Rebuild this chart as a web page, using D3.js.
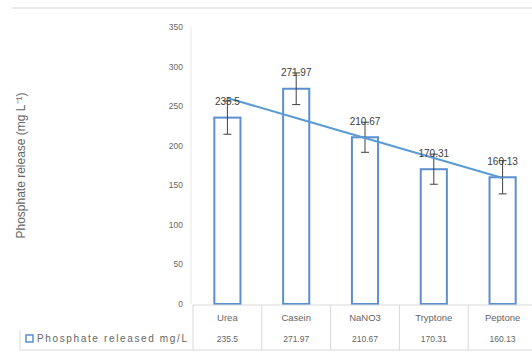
<!DOCTYPE html>
<html>
<head>
<meta charset="utf-8">
<script src="https://cdn.jsdelivr.net/npm/d3@7"></script>
<style>
  body { margin: 0; background: #fff; }
  svg text { font-family: "Liberation Sans", Arial, sans-serif; fill: #666; }
</style>
</head>
<body>
<div id="chart"></div>
<script>
var WIDTH = 532;
var HEIGHT = 354;

// data
var categories = ["Urea", "Casein", "NaNO3", "Tryptone", "Peptone"];
var values = [235.5, 271.97, 210.67, 170.31, 160.13];
var errors = [21, 20, 19, 19, 21];
var valueLabels = ["235.5", "271.97", "210.67", "170.31", "160.13"];
var yTicks = [0, 50, 100, 150, 200, 250, 300, 350];
var seriesName = "Phosphate released mg/L";
var yTitle = "Phosphate release (mg L\u207B\u00B9)";

var BAR_COLOR = "#5b8fcf";
var TREND_COLOR = "#5b9bd5";
var GRID = "#d9d9d9";

var svg = d3.select("#chart").append("svg")
    .attr("width", WIDTH)
    .attr("height", HEIGHT);

// chart border (top edge shows)
svg.append("line")
    .attr("x1", 12).attr("x2", WIDTH).attr("y1", 8).attr("y2", 8)
    .attr("stroke", "#d9d9d9");

var x = d3.scaleBand().domain(categories).range([193, 537]).padding(0);
var y = d3.scaleLinear().domain([0, 350]).range([304, 27]);
var barW = x.bandwidth() * 0.38;

// y axis line
svg.append("line")
    .attr("x1", 191).attr("x2", 191).attr("y1", y(350)).attr("y2", y(0))
    .attr("stroke", "#e8e8e8");

// y tick labels
svg.append("g").selectAll("text").data(yTicks).enter().append("text")
    .attr("x", 183)
    .attr("y", d => y(d))
    .attr("dy", "0.35em")
    .attr("text-anchor", "end")
    .attr("font-size", 8.5)
    .text(d => d);

// y title
svg.append("text")
    .attr("transform", "translate(25," + ((y(0) + y(350)) / 2) + ") rotate(-90)")
    .attr("text-anchor", "middle")
    .attr("font-size", 12)
    .text(yTitle);

// bars
svg.append("g").selectAll("rect").data(values).enter().append("rect")
    .attr("x", (d, i) => x(categories[i]) + x.bandwidth() / 2 - barW / 2)
    .attr("y", d => y(d))
    .attr("width", barW)
    .attr("height", d => y(0) - y(d))
    .attr("fill", "#fff")
    .attr("stroke", BAR_COLOR)
    .attr("stroke-width", 2);

// error bars
var eb = svg.append("g").attr("stroke", "#404040").attr("stroke-width", 1);
values.forEach((v, i) => {
    var cx = x(categories[i]) + x.bandwidth() / 2;
    eb.append("line").attr("x1", cx).attr("x2", cx)
        .attr("y1", y(v + errors[i])).attr("y2", y(v - errors[i]));
    [v + errors[i], v - errors[i]].forEach(e => {
        eb.append("line").attr("x1", cx - 4).attr("x2", cx + 4)
            .attr("y1", y(e)).attr("y2", y(e));
    });
});

// linear trendline (least squares over category index)
var n = values.length;
var mx = (n + 1) / 2;
var my = d3.mean(values);
var sxy = d3.sum(values, (v, i) => (i + 1 - mx) * (v - my));
var sxx = d3.sum(values, (v, i) => (i + 1 - mx) * (i + 1 - mx));
var slope = sxy / sxx;
var trend = values.map((v, i) => my + slope * (i + 1 - mx));
svg.append("path")
    .datum(trend)
    .attr("fill", "none")
    .attr("stroke", TREND_COLOR)
    .attr("stroke-width", 2)
    .attr("d", d3.line()
        .x((d, i) => x(categories[i]) + x.bandwidth() / 2)
        .y(d => y(d)));

// data labels
svg.append("g").selectAll("text").data(values).enter().append("text")
    .attr("x", (d, i) => x(categories[i]) + x.bandwidth() / 2)
    .attr("y", d => y(d) - 16)
    .attr("dy", "0.35em")
    .attr("text-anchor", "middle")
    .attr("font-size", 10)
    .style("fill", "#404040")
    .text((d, i) => valueLabels[i]);

// data table
var tTop = y(0) + 1, tBottom = 350, rowMid = 328;
var tg = svg.append("g").attr("stroke", GRID).attr("stroke-width", 1);
tg.append("line").attr("x1", x.range()[0]).attr("x2", WIDTH).attr("y1", tTop).attr("y2", tTop);
tg.append("line").attr("x1", 20).attr("x2", WIDTH).attr("y1", tBottom).attr("y2", tBottom);
tg.append("line").attr("x1", 20).attr("x2", 20).attr("y1", rowMid + 2).attr("y2", tBottom);
categories.forEach(c => {
    tg.append("line").attr("x1", x(c)).attr("x2", x(c)).attr("y1", tTop).attr("y2", tBottom);
});

svg.append("g").selectAll("text").data(categories).enter().append("text")
    .attr("x", d => x(d) + x.bandwidth() / 2)
    .attr("y", 318)
    .attr("dy", "0.35em")
    .attr("text-anchor", "middle")
    .attr("font-size", 9.5)
    .text(d => d);

svg.append("g").selectAll("text").data(valueLabels).enter().append("text")
    .attr("x", (d, i) => x(categories[i]) + x.bandwidth() / 2)
    .attr("y", 339)
    .attr("dy", "0.35em")
    .attr("text-anchor", "middle")
    .attr("font-size", 8.5)
    .text(d => d);

// legend key in the table
svg.append("rect")
    .attr("x", 26).attr("y", 335)
    .attr("width", 7).attr("height", 7)
    .attr("fill", "#fff")
    .attr("stroke", BAR_COLOR)
    .attr("stroke-width", 1.5);
svg.append("text")
    .attr("x", 37).attr("y", 338)
    .attr("dy", "0.35em")
    .attr("font-size", 10)
    .attr("textLength", 150)
    .text(seriesName);
</script>
</body>
</html>
